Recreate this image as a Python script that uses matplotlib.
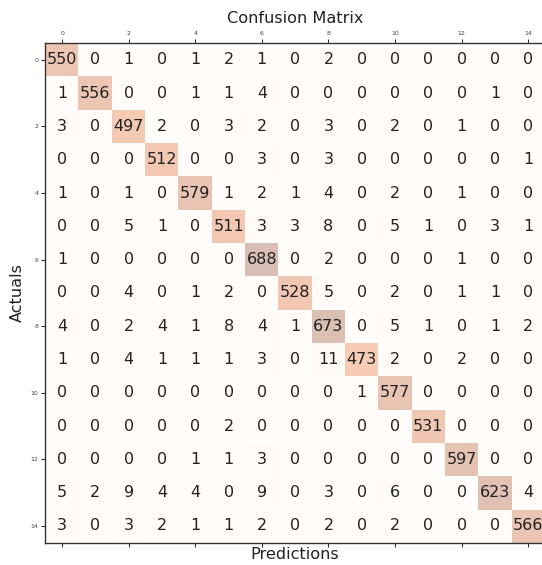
import matplotlib
matplotlib.use('Agg')
import matplotlib.pyplot as plt
import numpy as np

# Confusion matrix counts, rows = actual class, columns = predicted class
row_00 = [550, 0, 1, 0, 1, 2, 1, 0, 2, 0, 0, 0, 0, 0, 0]
row_01 = [1, 556, 0, 0, 1, 1, 4, 0, 0, 0, 0, 0, 0, 1, 0]
row_02 = [3, 0, 497, 2, 0, 3, 2, 0, 3, 0, 2, 0, 1, 0, 0]
row_03 = [0, 0, 0, 512, 0, 0, 3, 0, 3, 0, 0, 0, 0, 0, 1]
row_04 = [1, 0, 1, 0, 579, 1, 2, 1, 4, 0, 2, 0, 1, 0, 0]
row_05 = [0, 0, 5, 1, 0, 511, 3, 3, 8, 0, 5, 1, 0, 3, 1]
row_06 = [1, 0, 0, 0, 0, 0, 688, 0, 2, 0, 0, 0, 1, 0, 0]
row_07 = [0, 0, 4, 0, 1, 2, 0, 528, 5, 0, 2, 0, 1, 1, 0]
row_08 = [4, 0, 2, 4, 1, 8, 4, 1, 673, 0, 5, 1, 0, 1, 2]
row_09 = [1, 0, 4, 1, 1, 1, 3, 0, 11, 473, 2, 0, 2, 0, 0]
row_10 = [0, 0, 0, 0, 0, 0, 0, 0, 0, 1, 577, 0, 0, 0, 0]
row_11 = [0, 0, 0, 0, 0, 2, 0, 0, 0, 0, 0, 531, 0, 0, 0]
row_12 = [0, 0, 0, 0, 1, 1, 3, 0, 0, 0, 0, 0, 597, 0, 0]
row_13 = [5, 2, 9, 4, 4, 0, 9, 0, 3, 0, 6, 0, 0, 623, 4]
row_14 = [3, 0, 3, 2, 1, 1, 2, 0, 2, 0, 2, 0, 0, 0, 566]

conf_matrix = np.array([row_00, row_01, row_02, row_03, row_04, row_05, row_06, row_07,
                        row_08, row_09, row_10, row_11, row_12, row_13, row_14])

fig = plt.figure(figsize=(5.42, 5.65), dpi=100)
ax = fig.add_axes([0.0838, 0.0396, 0.9216, 0.884])
ax.matshow(conf_matrix, cmap=plt.cm.Oranges, alpha=0.3, aspect='auto')

# Write the counts into every cell
for i in range(conf_matrix.shape[0]):
  for j in range(conf_matrix.shape[1]):
    ax.text(x=j, y=i, s=conf_matrix[i, j], va='center', ha='center', size=11.5, color='#222222')

ax.tick_params(labelsize=4.5, length=3, width=0.6, pad=2, labelcolor='#444444')
for spine in ax.spines.values():
  spine.set_linewidth(1.0)
  spine.set_color('#333333')

ax.set_title('Confusion Matrix', fontsize=11.6, pad=6, color='#222222')
ax.set_xlabel('Predictions', fontsize=11.6, labelpad=0, color='#222222')
ax.set_ylabel('Actuals', fontsize=11.6, labelpad=4, color='#222222')

plt.savefig('out.png', dpi=100)
plt.close()
